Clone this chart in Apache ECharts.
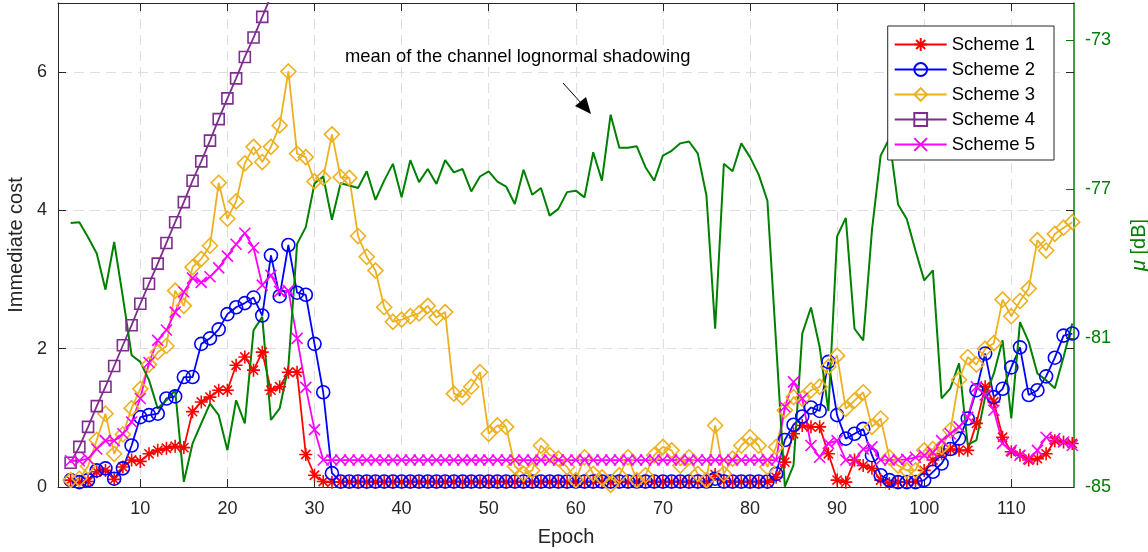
<!DOCTYPE html>
<html>
<head>
<meta charset="utf-8">
<title>Immediate cost per epoch</title>
<script src="https://cdn.jsdelivr.net/npm/echarts@6/dist/echarts.min.js"></script>
<style>
  html, body { margin: 0; padding: 0; background: #fff; }
  #main { width: 1148px; height: 552px; }
</style>
</head>
<body>
<div id="main"></div>
<script>
// epochs 2..117
var epochs = [2, 3, 4, 5, 6, 7, 8, 9, 10, 11, 12, 13, 14, 15, 16, 17, 18, 19, 20, 21,
  22, 23, 24, 25, 26, 27, 28, 29, 30, 31, 32, 33, 34, 35, 36, 37, 38, 39, 40, 41,
  42, 43, 44, 45, 46, 47, 48, 49, 50, 51, 52, 53, 54, 55, 56, 57, 58, 59, 60, 61,
  62, 63, 64, 65, 66, 67, 68, 69, 70, 71, 72, 73, 74, 75, 76, 77, 78, 79, 80, 81,
  82, 83, 84, 85, 86, 87, 88, 89, 90, 91, 92, 93, 94, 95, 96, 97, 98, 99, 100, 101,
  102, 103, 104, 105, 106, 107, 108, 109, 110, 111, 112, 113, 114, 115, 116, 117];

var scheme1 = [0.10, 0.07, 0.08, 0.22, 0.24, 0.11, 0.29, 0.39, 0.37, 0.48,
  0.53, 0.56, 0.59, 0.57, 1.09, 1.23, 1.30, 1.40, 1.40, 1.76,
  1.88, 1.69, 1.95, 1.40, 1.45, 1.66, 1.66, 0.47, 0.17, 0.08,
  0.07, 0.07, 0.07, 0.07, 0.07, 0.07, 0.07, 0.07, 0.07, 0.07,
  0.07, 0.07, 0.07, 0.07, 0.07, 0.07, 0.07, 0.07, 0.07, 0.07,
  0.07, 0.07, 0.07, 0.07, 0.07, 0.07, 0.07, 0.07, 0.07, 0.07,
  0.07, 0.07, 0.07, 0.07, 0.07, 0.07, 0.07, 0.07, 0.07, 0.07,
  0.07, 0.07, 0.07, 0.07, 0.18, 0.09, 0.07, 0.07, 0.07, 0.07,
  0.07, 0.14, 0.36, 0.77, 0.89, 0.87, 0.87, 0.48, 0.10, 0.07,
  0.39, 0.31, 0.27, 0.10, 0.05, 0.07, 0.07, 0.08, 0.24, 0.39,
  0.48, 0.55, 0.53, 0.53, 0.92, 1.45, 1.23, 0.72, 0.51, 0.46,
  0.39, 0.41, 0.48, 0.67, 0.65, 0.63];

var scheme2 = [0.10, 0.07, 0.10, 0.24, 0.27, 0.12, 0.27, 0.60, 1.01, 1.04,
  1.06, 1.28, 1.31, 1.59, 1.59, 2.07, 2.15, 2.28, 2.50, 2.60,
  2.66, 2.74, 2.48, 3.35, 2.76, 3.50, 2.81, 2.78, 2.07, 1.37,
  0.20, 0.08, 0.08, 0.08, 0.08, 0.08, 0.08, 0.08, 0.08, 0.08,
  0.08, 0.08, 0.08, 0.08, 0.08, 0.08, 0.08, 0.08, 0.08, 0.08,
  0.08, 0.08, 0.08, 0.08, 0.08, 0.08, 0.08, 0.08, 0.08, 0.08,
  0.08, 0.08, 0.08, 0.08, 0.08, 0.08, 0.08, 0.08, 0.08, 0.08,
  0.08, 0.08, 0.08, 0.08, 0.12, 0.08, 0.08, 0.08, 0.08, 0.08,
  0.08, 0.19, 0.68, 0.90, 1.02, 1.15, 1.10, 1.81, 1.04, 0.70,
  0.77, 0.84, 0.46, 0.17, 0.10, 0.07, 0.07, 0.07, 0.10, 0.22,
  0.34, 0.55, 0.70, 0.99, 1.40, 1.93, 1.30, 1.42, 1.73, 2.02,
  1.33, 1.40, 1.60, 1.87, 2.19, 2.22];

var scheme3 = [0.10, 0.12, 0.30, 0.68, 1.06, 0.48, 0.76, 1.14, 1.42, 1.77,
  1.95, 2.04, 2.84, 2.62, 3.18, 3.30, 3.49, 4.40, 3.88, 4.13,
  4.68, 4.92, 4.70, 4.92, 5.23, 6.01, 4.82, 4.77, 4.42, 4.47,
  5.10, 4.48, 4.47, 3.63, 3.33, 3.13, 2.60, 2.39, 2.42, 2.47,
  2.51, 2.62, 2.45, 2.53, 1.35, 1.30, 1.45, 1.66, 0.77, 0.89,
  0.87, 0.30, 0.19, 0.24, 0.60, 0.46, 0.41, 0.29, 0.10, 0.43,
  0.19, 0.14, 0.03, 0.17, 0.43, 0.10, 0.17, 0.46, 0.58, 0.53,
  0.31, 0.43, 0.19, 0.10, 0.89, 0.19, 0.41, 0.60, 0.72, 0.60,
  0.29, 0.58, 1.11, 1.30, 1.28, 1.40, 1.45, 1.74, 1.90, 1.13,
  1.25, 1.37, 0.87, 0.99, 0.43, 0.31, 0.24, 0.24, 0.53, 0.55,
  0.58, 0.82, 1.55, 1.88, 1.77, 2.00, 2.08, 2.71, 2.47, 2.69,
  2.87, 3.57, 3.42, 3.66, 3.75, 3.83];

// scheme 4 leaves the plot at the top after epoch 24
var scheme4 = [0.35, 0.58, 0.87, 1.17, 1.45, 1.75, 2.05, 2.34, 2.65, 2.94,
  3.23, 3.53, 3.83, 4.12, 4.43, 4.71, 5.01, 5.32, 5.62, 5.91,
  6.22, 6.50, 6.80, 7.10, 7.40];

var scheme5 = [0.38, 0.38, 0.41, 0.55, 0.67, 0.67, 0.77, 0.94, 1.28, 1.80,
  2.12, 2.27, 2.53, 2.82, 3.02, 2.96, 3.04, 3.17, 3.34, 3.51,
  3.67, 3.46, 2.92, 3.06, 2.83, 2.84, 2.15, 1.44, 0.83, 0.39,
  0.39, 0.39, 0.39, 0.39, 0.39, 0.39, 0.39, 0.39, 0.39, 0.39,
  0.39, 0.39, 0.39, 0.39, 0.39, 0.39, 0.39, 0.39, 0.39, 0.39,
  0.39, 0.39, 0.39, 0.39, 0.39, 0.39, 0.39, 0.39, 0.39, 0.39,
  0.39, 0.39, 0.39, 0.39, 0.39, 0.39, 0.39, 0.39, 0.39, 0.39,
  0.39, 0.39, 0.39, 0.39, 0.39, 0.39, 0.39, 0.39, 0.39, 0.39,
  0.39, 0.39, 1.16, 1.52, 1.28, 0.60, 0.43, 0.63, 0.67, 0.39,
  0.39, 0.55, 0.58, 0.39, 0.39, 0.39, 0.40, 0.43, 0.46, 0.50,
  0.67, 0.77, 0.87, 1.01, 1.45, 1.33, 1.11, 0.63, 0.53, 0.46,
  0.41, 0.53, 0.72, 0.70, 0.65, 0.60];

// mean of the channel lognormal shadowing, dB (right axis)
var shadowMean = [-77.91, -77.89, -78.29, -78.73, -79.70, -78.42, -79.90, -81.46, -81.64, -82.13,
  -82.89, -82.67, -82.40, -84.86, -83.83, -83.29, -82.76, -83.07, -84.01, -82.67,
  -83.29, -80.79, -80.43, -83.20, -82.89, -81.77, -78.47, -78.02, -76.85, -76.66,
  -77.82, -76.84, -76.90, -76.97, -76.52, -77.29, -76.77, -76.32, -77.22, -76.22,
  -76.81, -76.46, -76.86, -76.22, -76.55, -76.46, -77.06, -76.66, -76.52, -76.80,
  -76.93, -77.40, -76.48, -77.15, -76.97, -77.71, -77.53, -77.08, -77.04, -77.22,
  -76.01, -76.77, -75.00, -75.89, -75.89, -75.85, -76.41, -76.77, -76.10, -75.97,
  -75.77, -75.72, -76.04, -77.17, -80.75, -76.32, -76.52, -75.77, -76.14, -76.61,
  -77.31, -81.15, -84.99, -84.41, -80.88, -80.18, -81.24, -82.96, -78.27, -77.77,
  -80.75, -81.06, -78.11, -76.10, -75.64, -77.41, -77.80, -78.65, -79.45, -79.18,
  -82.62, -82.35, -81.68, -83.87, -83.74, -82.58, -81.95, -81.06, -83.16, -80.57,
  -81.10, -81.95, -82.13, -82.35, -81.51, -80.61];

var xTicks = [10, 20, 30, 40, 50, 60, 70, 80, 90, 100, 110];
var costTicks = [0, 2, 4, 6];
var muTicks = [-85, -81, -77, -73];
var schemeNames = ['Scheme 1', 'Scheme 2', 'Scheme 3', 'Scheme 4', 'Scheme 5'];

var axisGray = '#262626';
var green = '#008000';
var gridGray = '#dedede';
var font = "'Liberation Sans', Arial, Helvetica, sans-serif";

// stroke-only marker shapes
var asterisk = 'path://M12,0L12,24M0,12L24,12M3.5,3.5L20.5,20.5M3.5,20.5L20.5,3.5';
var cross = 'path://M0,0L24,24M0,24L24,0';

function toPoints(values) {
  return values.map(function (v, i) { return [epochs[i], v]; });
}

function schemeSeries(name, values, color, symbol, size) {
  return {
    name: name,
    type: 'line',
    xAxisIndex: 0,
    yAxisIndex: 0,
    data: toPoints(values),
    symbol: symbol,
    symbolSize: size,
    showAllSymbol: true,
    clip: true,
    lineStyle: { color: color, width: 1.8 },
    itemStyle: { color: 'transparent', borderColor: color, borderWidth: 1.6 },
    emphasis: { disabled: true }
  };
}

var chartDom = document.getElementById('main');
var myChart = echarts.init(chartDom);
var option;
option = {
  animation: false,
  textStyle: { fontFamily: font },
  grid: { left: 58, right: 74, top: 3, bottom: 65, containLabel: false, outerBoundsMode: 'none' },
  legend: {
    data: schemeNames,
    orient: 'vertical',
    right: 94,
    top: 26,
    padding: [9, 19, 6, 6],
    itemGap: 6,
    itemWidth: 52,
    itemHeight: 16,
    backgroundColor: '#fff',
    borderColor: axisGray,
    borderWidth: 1,
    borderRadius: 0,
    selectedMode: false,
    textStyle: { fontSize: 18.5, color: '#000', lineHeight: 18, fontFamily: font }
  },
  xAxis: [
    {
      type: 'value', position: 'bottom', min: 0.55, max: 117.2,
      name: 'Epoch', nameLocation: 'middle', nameGap: 40,
      nameTextStyle: { fontSize: 20, color: axisGray },
      axisLine: { show: true, onZero: false, lineStyle: { color: axisGray, width: 1 } },
      axisTick: { show: true, inside: true, length: 8, customValues: xTicks, lineStyle: { color: axisGray } },
      axisLabel: { customValues: xTicks, fontSize: 18, color: axisGray, margin: 13 },
      splitLine: { show: true, lineStyle: { color: gridGray, width: 1, type: [10, 6] } }
    },
    {
      type: 'value', position: 'top', min: 0.55, max: 117.2,
      axisLine: { show: true, onZero: false, lineStyle: { color: axisGray, width: 1 } },
      axisTick: { show: true, inside: true, length: 8, customValues: xTicks, lineStyle: { color: axisGray } },
      axisLabel: { show: false },
      splitLine: { show: false }
    }
  ],
  yAxis: [
    {
      type: 'value', position: 'left', min: 0, max: 7,
      name: 'Immediate cost', nameLocation: 'middle', nameGap: 30,
      nameTextStyle: { fontSize: 20, color: axisGray },
      axisLine: { show: true, lineStyle: { color: axisGray, width: 1 } },
      axisTick: { show: true, inside: true, length: 8, customValues: costTicks, lineStyle: { color: axisGray } },
      axisLabel: { customValues: costTicks, fontSize: 18, color: axisGray, margin: 11 },
      splitLine: { show: true, lineStyle: { color: gridGray, width: 1, type: [10, 6] } }
    },
    {
      type: 'value', position: 'right', min: -85, max: -72,
      name: '{i|\u03bc} [dB]', nameLocation: 'middle', nameGap: 55, nameRotate: 90,
      nameTextStyle: {
        fontSize: 20, color: green,
        rich: { i: { fontSize: 20, color: green, fontStyle: 'italic', fontFamily: font } }
      },
      axisLine: { show: true, lineStyle: { color: green, width: 1.5 } },
      axisTick: { show: true, inside: true, length: 8, customValues: muTicks, lineStyle: { color: green } },
      axisLabel: { customValues: muTicks, fontSize: 18, color: green, margin: 11 },
      splitLine: { show: false }
    },
    {
      // left-axis ticks mirrored on the right edge
      type: 'value', position: 'right', offset: 0, min: 0, max: 7,
      axisLine: { show: false },
      axisTick: { show: true, inside: true, length: 8, customValues: costTicks, lineStyle: { color: axisGray } },
      axisLabel: { show: false },
      splitLine: { show: false }
    }
  ],
  graphic: [
    {
      type: 'text', left: 345, top: 48, z: 100,
      style: { text: 'mean of the channel lognormal shadowing', fontSize: 18.4, fontFamily: font, fill: '#000' }
    },
    {
      type: 'line', z: 100,
      shape: { x1: 563, y1: 83, x2: 582, y2: 104 },
      style: { stroke: '#000', lineWidth: 1 }
    },
    {
      type: 'polygon', z: 100,
      shape: { points: [[591, 114], [575, 106], [586, 97]] },
      style: { fill: '#000' }
    }
  ],
  series: [
    schemeSeries('Scheme 1', scheme1, '#ff0000', asterisk, 13),
    schemeSeries('Scheme 2', scheme2, '#0000ff', 'circle', 13),
    schemeSeries('Scheme 3', scheme3, '#edb120', 'diamond', 15),
    schemeSeries('Scheme 4', scheme4, '#7e2f8e', 'rect', 11),
    schemeSeries('Scheme 5', scheme5, '#ff00ff', cross, 11),
    {
      name: 'Shadowing mean',
      type: 'line',
      xAxisIndex: 0,
      yAxisIndex: 1,
      data: toPoints(shadowMean),
      symbol: 'none',
      clip: true,
      lineStyle: { color: green, width: 2 },
      itemStyle: { color: green },
      emphasis: { disabled: true }
    }
  ]
};

option && myChart.setOption(option);
</script>
</body>
</html>
